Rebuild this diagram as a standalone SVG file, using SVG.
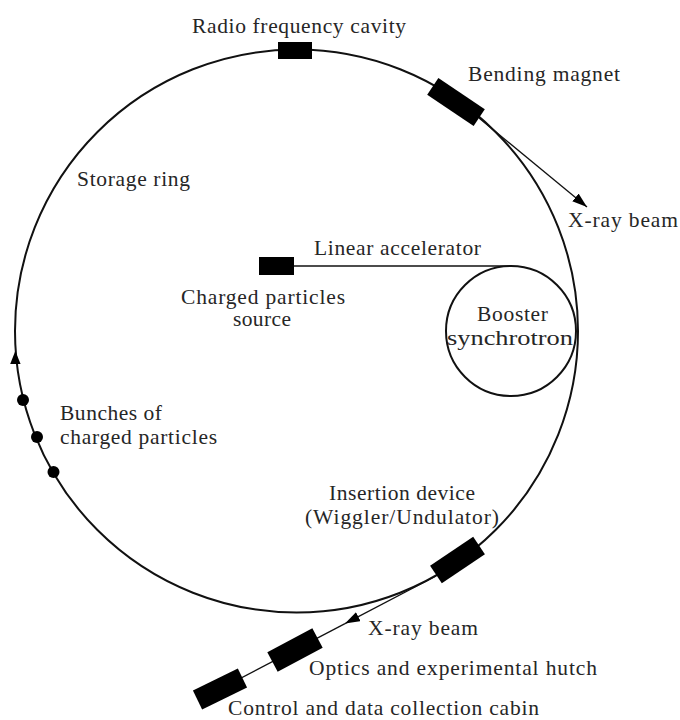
<svg xmlns="http://www.w3.org/2000/svg" width="680" height="720" viewBox="0 0 680 720">
<style>
  text { font-family: "Liberation Serif", "Times New Roman", serif; font-size: 21.5px; fill: #262626; }
  .ring { fill: none; stroke: #111; stroke-width: 2; }
  .beam { fill: none; stroke: #111; stroke-width: 1.3; }
  .blk { fill: #000; }
</style>
<defs>
  <marker id="arr" viewBox="0 0 15 10" refX="15" refY="5" markerWidth="15" markerHeight="10" markerUnits="userSpaceOnUse" orient="auto">
    <path d="M0,0 L15,5 L0,10 z" fill="#000"/>
  </marker>
</defs>
<rect width="680" height="720" fill="#fff"/>

<g id="storage-ring">
  <circle class="ring" cx="296.5" cy="331" r="281.5"/>
  <polygon class="blk" points="15.3,351 10.2,364 20.6,364"/>
  <text x="77" y="186" textLength="113">Storage ring</text>
</g>

<g id="connectors">
  <line class="beam" x1="294" y1="266" x2="511" y2="266" stroke-width="1.6"/>
  <line class="beam" x1="479" y1="118" x2="587" y2="207" marker-end="url(#arr)"/>
  <line class="beam" x1="436" y1="576" x2="345" y2="623.6" marker-end="url(#arr)"/>
  <line class="beam" x1="345" y1="623.6" x2="220" y2="689"/>
</g>

<g id="rf-cavity">
  <rect class="blk" x="278" y="42" width="34" height="17"/>
  <text x="192" y="33" textLength="214">Radio frequency cavity</text>
</g>

<g id="bending-magnet">
  <rect class="blk" x="-28" y="-10" width="56" height="20" transform="translate(456,102) rotate(34)"/>
  <text x="468" y="81" textLength="152">Bending magnet</text>
</g>

<g id="xray-beam-top">
  <text x="568" y="227" textLength="110">X-ray beam</text>
</g>

<g id="particle-source">
  <rect class="blk" x="259" y="257" width="35" height="18"/>
  <text x="181" y="304" textLength="164">Charged particles</text>
  <text x="233" y="326" textLength="58">source</text>
</g>

<g id="linear-accelerator">
  <text x="314" y="255" textLength="167">Linear accelerator</text>
</g>

<g id="booster">
  <circle class="ring" cx="511" cy="331" r="65" stroke-width="1.8"/>
  <text x="477" y="321" textLength="71">Booster</text>
  <text x="447" y="345" textLength="126" lengthAdjust="spacingAndGlyphs">synchrotron</text>
</g>

<g id="bunches">
  <circle class="blk" cx="23" cy="400" r="6"/>
  <circle class="blk" cx="37" cy="437" r="6"/>
  <circle class="blk" cx="53.5" cy="472" r="6"/>
  <text x="60" y="420" textLength="102">Bunches of</text>
  <text x="60" y="444" textLength="157">charged particles</text>
</g>

<g id="insertion-device">
  <rect class="blk" x="-26" y="-10.5" width="52" height="21" transform="translate(457.5,560) rotate(-34)"/>
  <text x="329" y="500" textLength="146">Insertion device</text>
  <text x="305" y="524" textLength="194">(Wiggler/Undulator)</text>
</g>

<g id="xray-beam-bottom">
  <text x="368" y="635" textLength="110">X-ray beam</text>
</g>

<g id="hutch">
  <rect class="blk" x="-25.5" y="-11" width="51" height="22" transform="translate(295,650) rotate(-28)"/>
  <text x="309" y="675" textLength="288">Optics and experimental hutch</text>
</g>

<g id="cabin">
  <rect class="blk" x="-25" y="-10.5" width="50" height="21" transform="translate(220,689) rotate(-26)"/>
  <text x="228" y="715" textLength="311">Control and data collection cabin</text>
</g>
</svg>
